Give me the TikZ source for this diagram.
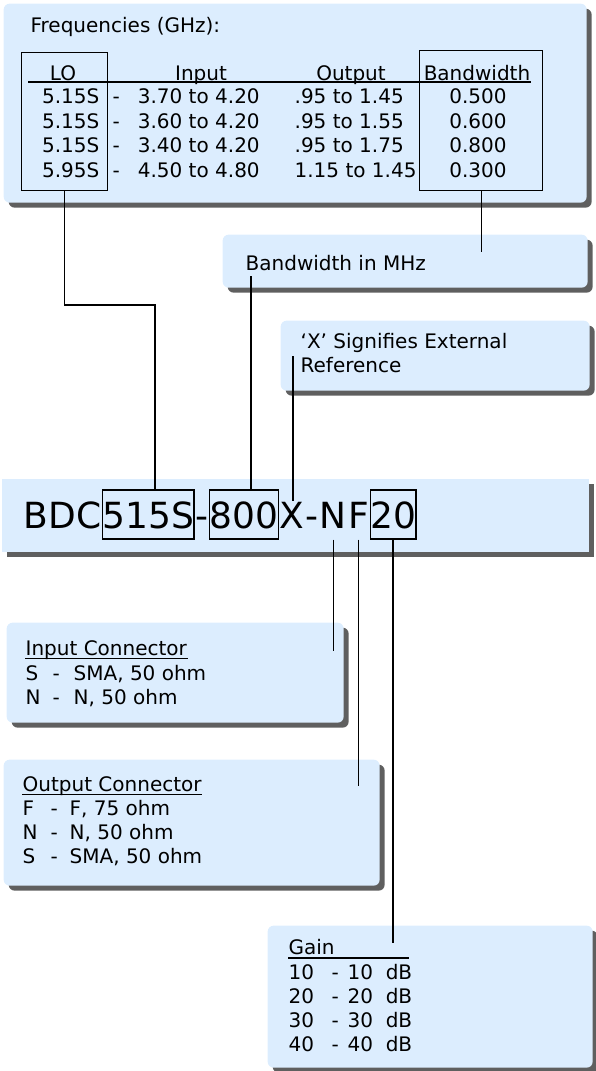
\documentclass[tikz,border=0pt]{standalone}
\usepackage{fontspec}
\setmainfont{DejaVu Sans}
\usetikzlibrary{positioning,shadows}
\definecolor{panelblue}{RGB}{220,237,254}
\definecolor{shadowgray}{RGB}{95,95,95}

\begin{document}
\begin{tikzpicture}[x=1pt, y=-1pt, line width=1.3pt,
                panel/.style ={fill=panelblue, rounded corners=6pt, anchor=north west, inner sep=0pt,
                drop shadow={shadow xshift=5pt, shadow yshift=-5pt, fill=shadowgray, opacity=1}},
                frame/.style ={draw, anchor=north west, inner sep=0pt},
                txt/.style ={font=\fontsize{20}{24}\selectfont, inner sep=0pt, anchor=base west},
                pn/.style ={font=\fontsize{36}{43}\selectfont, inner sep=0pt},
                pnbox/.style ={pn, draw, text height=38pt, text depth=11pt}]
    \useasboundingbox (0,0) rectangle (595,1071);

    %cajas de fondo
    \node[panel, minimum width=583pt, minimum height=199pt] (freq) at (3,3) {};
    \node[panel, minimum width=365pt, minimum height=53pt] (mhz) at (222,234) {};
    \node[panel, minimum width=309pt, minimum height=70pt] (ext) at (280,320) {};
    \node[panel, rounded corners=0pt, minimum width=587pt, minimum height=73pt] (bar) at (1,478) {};
    \node[panel, minimum width=337pt, minimum height=100pt] (incon) at (6,622) {};
    \node[panel, minimum width=376pt, minimum height=126pt] (outcon) at (3,759) {};
    \node[panel, minimum width=325pt, minimum height=142pt] (gain) at (267,925) {};

    %tabla de frecuencias
    \node[txt] (freqtitle) at (30,32) {Frequencies (GHz):};
    \node[frame, minimum width=86pt, minimum height=138pt] (lobox) at (21,52) {};
    \node[frame, minimum width=123pt, minimum height=140pt] (bwbox) at (419,50) {};
    \node[txt, anchor=base] (hlo) at (63,80) {LO};
    \node[txt, anchor=base] (hin) at (201,80) {Input};
    \node[txt, anchor=base] (hout) at (351,80) {Output};
    \node[txt, anchor=base] (hbw) at (477,80) {Bandwidth};
    \draw (28,82) -- (531,82);

    \node[txt, anchor=base east] (lo1) at (100,103) {5.15S};
    \node[txt] (in1) at (112,103) {-\hspace{18pt}3.70 to 4.20};
    \node[txt] (out1) at (294,103) {.95 to 1.45};
    \node[txt, anchor=base] (bw1) at (478,103) {0.500};
    \node[txt, anchor=base east] (lo2) at (100,128) {5.15S};
    \node[txt] (in2) at (112,128) {-\hspace{18pt}3.60 to 4.20};
    \node[txt] (out2) at (294,128) {.95 to 1.55};
    \node[txt, anchor=base] (bw2) at (478,128) {0.600};
    \node[txt, anchor=base east] (lo3) at (100,152) {5.15S};
    \node[txt] (in3) at (112,152) {-\hspace{18pt}3.40 to 4.20};
    \node[txt] (out3) at (294,152) {.95 to 1.75};
    \node[txt, anchor=base] (bw3) at (478,152) {0.800};
    \node[txt, anchor=base east] (lo4) at (100,177) {5.95S};
    \node[txt] (in4) at (112,177) {-\hspace{18pt}4.50 to 4.80};
    \node[txt] (out4) at (294,177) {1.15 to 1.45};
    \node[txt, anchor=base] (bw4) at (478,177) {0.300};

    %notas
    \node[txt] (mhztext) at (245,270) {Bandwidth in MHz};
    \node[txt] (ext1) at (300,348) {‘X’ Signifies External};
    \node[txt] (ext2) at (300,372) {Reference};

    %numero de parte
    \node[pn, anchor=base west] (bdc) at (23,528) {BDC};
    \node[pnbox, base right=0pt of bdc] (lonum) {515S};
    \node[pn, base right=0pt of lonum] (dash1) {-};
    \node[pnbox, base right=0pt of dash1] (bwnum) {800};
    \node[pn, base right=0pt of bwnum] (xch) {X};
    \node[pn, base right=0pt of xch] (dash2) {-};
    \node[pn, base right=0pt of dash2] (nch) {N};
    \node[pn, base right=0pt of nch] (fch) {F};
    \node[pnbox, base right=0pt of fch] (gnum) {20};

    %conectores
    \node[txt] (inhead) at (25,655) {Input Connector};
    \draw[line width=1pt] ([yshift=-3pt]inhead.base west) -- ([yshift=-3pt]inhead.base east);
    \node[txt] (in1) at (25,680) {\makebox[27pt][l]{S}\makebox[21pt][l]{-}SMA, 50 ohm};
    \node[txt] (in2) at (25,704) {\makebox[27pt][l]{N}\makebox[21pt][l]{-}N, 50 ohm};

    \node[txt] (outhead) at (22,791) {Output Connector};
    \draw[line width=1pt] ([yshift=-3pt]outhead.base west) -- ([yshift=-3pt]outhead.base east);
    \node[txt] (out1) at (22,815) {\makebox[28pt][l]{F}\makebox[19pt][l]{-}F, 75 ohm};
    \node[txt] (out2) at (22,839) {\makebox[28pt][l]{N}\makebox[19pt][l]{-}N, 50 ohm};
    \node[txt] (out3) at (22,863) {\makebox[28pt][l]{S}\makebox[19pt][l]{-}SMA, 50 ohm};

    %ganancia
    \node[txt] (gainhead) at (288,954) {Gain};
    \coordinate (gainend) at (409,958);
    \draw[line width=2pt] ([yshift=-4pt]gainhead.base west) -- (gainend);
    \node[txt] (g1) at (288,979) {\makebox[43pt][l]{10}\makebox[16pt][l]{-}10~~dB};
    \node[txt] (g2) at (288,1003) {\makebox[43pt][l]{20}\makebox[16pt][l]{-}20~~dB};
    \node[txt] (g3) at (288,1027) {\makebox[43pt][l]{30}\makebox[16pt][l]{-}30~~dB};
    \node[txt] (g4) at (288,1051) {\makebox[43pt][l]{40}\makebox[16pt][l]{-}40~~dB};

    %lineas
    \coordinate (lobend) at (155,305);
    \coordinate (bwtip) at (477,252);
    \coordinate (mhztip) at (251,276);
    \coordinate (xtip) at (293,356);
    \coordinate (intip) at (0,651);
    \coordinate (outtip) at (0,786);
    \coordinate (gaintip) at (0,943);
    \draw (lobox.south) |- (lobend) -- (lobend |- lonum.north);
    \draw (bwbox.south) -- (bwbox.south |- bwtip);
    \draw (mhztip) -- (mhztip |- bwnum.north);
    \draw (xtip) -- (xtip |- xch.north);
    \draw (nch |- gnum.south) -- (nch |- intip);
    \draw (fch |- gnum.south) -- (fch |- outtip);
    \draw (gnum.south) -- (gnum |- gaintip);
\end{tikzpicture}
\end{document}
